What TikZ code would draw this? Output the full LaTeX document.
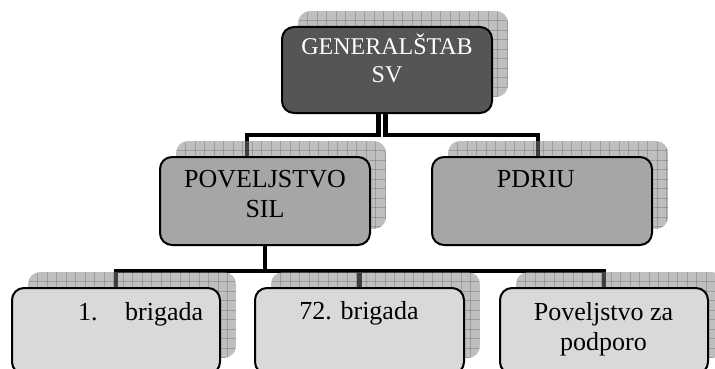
\documentclass[tikz,border=0pt]{standalone}
\usepackage{fontspec}
\setmainfont{Liberation Serif}
\usetikzlibrary{calc}
\definecolor{topfill}{HTML}{555555}
\definecolor{midfill}{HTML}{A6A6A6}
\definecolor{lowfill}{HTML}{D9D9D9}
\pgfdeclarelayer{bg}
\pgfdeclarelayer{shad}
\pgfsetlayers{bg,shad,main}
\newcommand\gridshadow[4]{%
  \begin{scope}
    \clip[rounded corners=12pt] (#1,#2) rectangle (#3,#4);
    \fill[gray,opacity=0.5] (#1,#2) rectangle (#3,#4);
    \foreach \k in {1,...,23} {\draw[gridln] ({#1+9.5*\k},#2) -- ({#1+9.5*\k},#4);}
    \foreach \k in {1,...,10} {\draw[gridln] (#1,{#2+9.5*\k}) -- (#3,{#2+9.5*\k});}
  \end{scope}}
\begin{document}
\begin{tikzpicture}[x=1pt,y=-1pt,
  boxshape/.style={draw=black,line width=2pt,rounded corners=12pt,inner sep=0pt,outer sep=0pt,rectangle},
  conn/.style={line width=4.5pt,black},
  gridln/.style={black,opacity=0.18,line width=0.8pt},
  lbl/.style={anchor=base,inner sep=0pt,font=\fontsize{26}{30}\selectfont},
  toplbl/.style={anchor=base,inner sep=0pt,text=white,font=\fontsize{24}{27}\selectfont}]
\useasboundingbox (0,0) rectangle (715,369);

% boxes
\node[boxshape,fill=topfill,minimum width=210,minimum height=86] (gs) at (387,70) {};
\node[boxshape,fill=midfill,minimum width=210,minimum height=88] (ps) at (265,201) {};
\node[boxshape,fill=midfill,minimum width=220,minimum height=88] (pd) at (542,201) {};
\node[boxshape,fill=lowfill,minimum width=208,minimum height=86] (b1) at (116,331) {};
\node[boxshape,fill=lowfill,minimum width=209,minimum height=86] (b72) at (359.5,331) {};
\node[boxshape,fill=lowfill,minimum width=208,minimum height=86] (pp) at (604,331) {};

% labels
\node[toplbl] (gs1) at (387,55) {GENERALŠTAB};
\node[toplbl] (gs2) at (387,82) {SV};
\node[lbl] (ps1) at (265,187) {POVELJSTVO};
\node[lbl] (ps2) at (265,217) {SIL};
\node[lbl] (pd1) at (536,187) {PDRIU};
\node[lbl,anchor=base west] (b1n) at (78,320) {1.};
\node[lbl,anchor=base west] (b1t) at (125,320) {brigada};
\node[lbl] (b72t) at (359,319) {72. brigada};
\node[lbl] (pp1) at (603.5,320) {Poveljstvo za};
\node[lbl] (pp2) at (603.5,350) {podporo};

% shadows
\begin{pgfonlayer}{shad}
  \gridshadow{298}{11}{508}{97}
  \gridshadow{176}{141}{386}{229}
  \gridshadow{448}{141}{668}{229}
  \gridshadow{28}{272}{236}{358}
  \gridshadow{271}{272}{480}{358}
  \gridshadow{516}{272}{724}{358}
\end{pgfonlayer}

% connectors
\begin{pgfonlayer}{bg}
  \coordinate (jl) at (378.5,135);
  \coordinate (jr) at (385.5,135);
  \coordinate (jb) at (265,271);
  \draw[conn] (gs.south -| jl) -- (jl) -| ([xshift=-18pt]ps.north);
  \draw[conn] (gs.south -| jr) -- (jr) -| ([xshift=-4pt]pd.north);
  \draw[conn] (ps.south) -- (jb);
  \draw[conn] (b1.north) |- (jb);
  \draw[conn] (pp.north) |- (jb);
  \draw[conn] (b72.north) -- (b72.north |- jb);
\end{pgfonlayer}
\end{tikzpicture}
\end{document}
